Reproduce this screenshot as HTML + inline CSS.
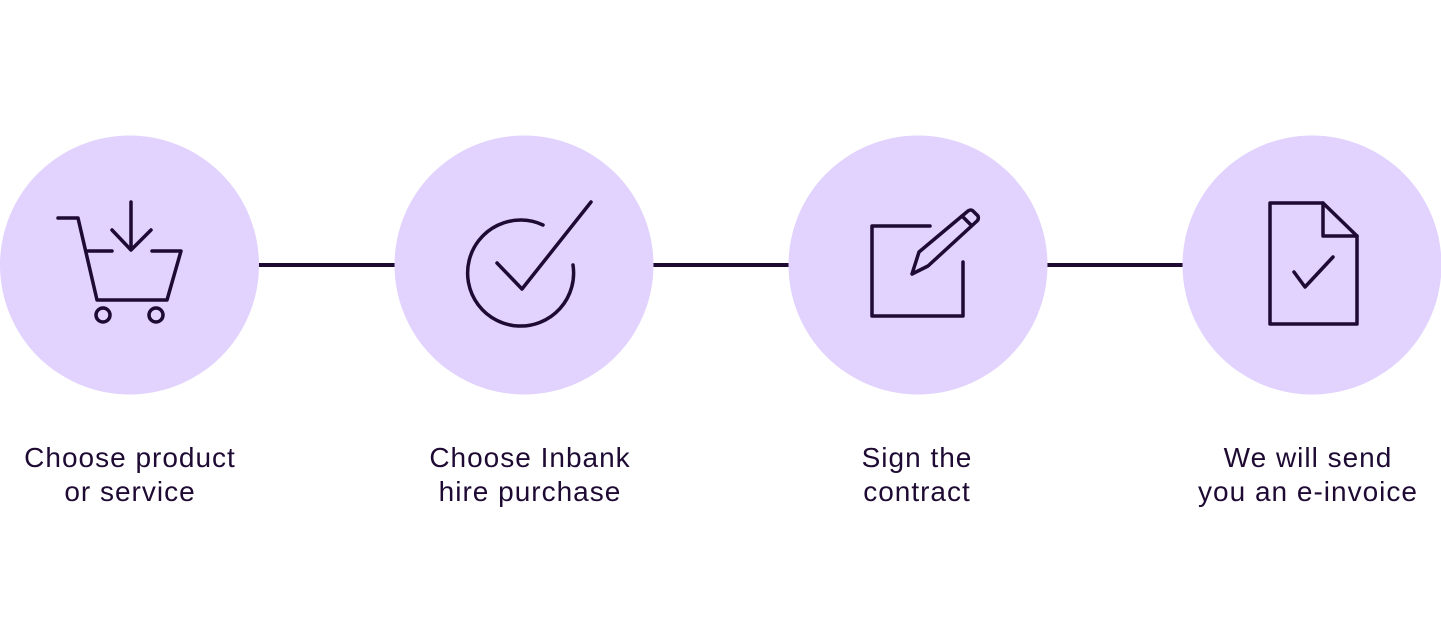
<!DOCTYPE html>
<html><head><style>
body{margin:0;background:#fff;width:1441px;height:636px;overflow:hidden;position:relative;font-family:"Liberation Sans",sans-serif}
.t{position:absolute;top:441px;width:320px;text-align:center;font-size:28px;line-height:34px;letter-spacing:1px;color:#1e0a33}
</style></head><body>
<svg width="1441" height="636" style="position:absolute;left:0;top:0">
<g stroke="#1e0a33" stroke-width="4">
<line x1="255" y1="265" x2="400" y2="265"/>
<line x1="650" y1="265" x2="795" y2="265"/>
<line x1="1044" y1="265" x2="1188" y2="265"/>
</g>
<g fill="#e1d2fe">
<circle cx="129.5" cy="265" r="129.5"/>
<circle cx="524" cy="265" r="129.5"/>
<circle cx="918" cy="265" r="129.5"/>
<circle cx="1312" cy="265" r="129.5"/>
</g>
<g fill="none" stroke="#1e0a33" stroke-width="3.5" stroke-linecap="round" stroke-linejoin="round">
<polyline points="58,218 78,218 97,300 167,300 181,251 152,251"/>
<line x1="88" y1="251" x2="112" y2="251"/>
<circle cx="103" cy="315" r="7"/>
<circle cx="156" cy="315" r="7"/>
<line x1="131" y1="202" x2="131" y2="247"/>
<polyline points="112,230 131,250 151,230"/>
<path d="M543,225 A53,53 0 1 0 573,265"/>
<polyline points="497,263 522,289 591,202"/>
<polyline points="930,226 872,226 872,316 963,316 963,262"/>
<path d="M912,274 L919,252 L968,211 Q971,209 973,211 L978,216 Q979,219 977,221 L928,266 Z"/>
<line x1="962" y1="216" x2="971" y2="225"/>
<polygon points="1270,203 1323,203 1357,236 1357,324 1270,324"/>
<polyline points="1323,203 1323,236 1357,236"/>
<polyline points="1294,272 1305,287 1333,257"/>
</g>
</svg>
<div class="t" style="left:-30px">Choose product<br>or service</div>
<div class="t" style="left:370px">Choose Inbank<br>hire purchase</div>
<div class="t" style="left:757px">Sign the<br>contract</div>
<div class="t" style="left:1148px">We will send<br>you an e-invoice</div>
</body></html>
